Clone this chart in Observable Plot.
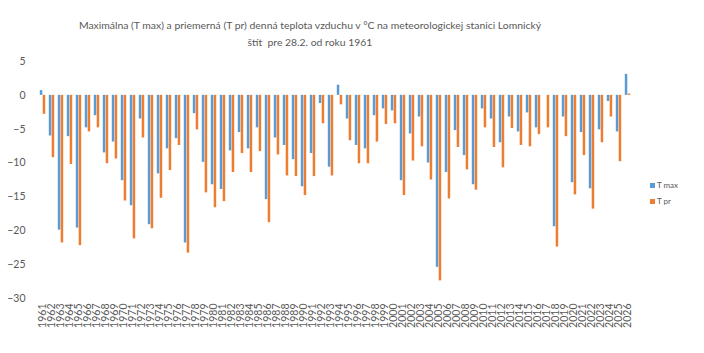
<!DOCTYPE html>
<html>
<head>
<meta charset="utf-8">
<script src="https://cdn.jsdelivr.net/npm/d3@7"></script>
<script src="https://cdn.jsdelivr.net/npm/@observablehq/plot@0.6"></script>
<style>
  html, body { margin: 0; padding: 0; background: #fff; }
  #wrap { position: relative; width: 704px; height: 353px; overflow: hidden; font-family: Lato, "Open Sans", sans-serif; color: #595959; }
  #title { position: absolute; left: 0; top: 17px; width: 620px; text-align: center; font-size: 10.4px; line-height: 17px; white-space: nowrap; }
  #legend { position: absolute; left: 650px; top: 177px; font-size: 8px; line-height: 16px; }
  #legend .sw { display: inline-block; width: 5px; height: 5px; margin-right: 2px; vertical-align: 0px; }
  #chart { position: absolute; left: 0; top: 0; }
</style>
</head>
<body>
<div id="wrap">
  <div id="chart"></div>
  <div id="title">Maximálna (T max) a priemerná (T pr) denná teplota vzduchu v °C na meteorologickej stanici Lomnický<br>štít&nbsp; pre 28.2. od roku 1961</div>
  <div id="legend"></div>
</div>
<script>
const years = d3.range(1961, 2027);
const seriesNames = ["T max", "T pr"];
const seriesColors = ["#5B9BD5", "#ED7D31"];
const tMax = [
  0.7, -6.0, -19.9, -6.1, -19.6, -4.8, -3.0, -8.5, -6.9, -12.6,
  -16.3, -3.5, -19.1, -11.6, -7.9, -6.4, -21.8, -2.7, -9.9, -13.2,
  -13.9, -8.2, -5.5, -7.9, -4.8, -15.4, -6.3, -7.4, -9.5, -13.5,
  -8.6, -1.2, -10.6, 1.5, -3.5, -7.4, -7.9, -3.0, -2.0, -2.3,
  -12.6, -5.7, -3.2, -10.0, -25.4, -11.4, -5.2, -8.9, -13.2, -2.0,
  -3.5, -7.0, -3.2, -5.4, -2.6, -4.8, null, -19.4, -3.2, -12.9,
  -5.5, -13.8, -5.1, -0.9, -5.4, 3.1
];
const tPr = [
  -2.8, -9.2, -21.8, -10.2, -22.2, -5.4, -4.8, -10.1, -9.4, -15.6,
  -21.2, -6.3, -19.7, -15.2, -11.1, -7.4, -23.3, -5.1, -14.4, -16.6,
  -15.7, -11.4, -8.6, -11.4, -8.3, -18.8, -8.8, -11.9, -12.0, -14.8,
  -12.0, -4.2, -11.9, -1.4, -6.7, -10.1, -10.1, -6.9, -4.3, -4.2,
  -14.8, -9.7, -7.6, -12.5, -27.4, -15.3, -7.7, -11.0, -14.0, -4.8,
  -7.7, -10.7, -4.9, -7.4, -7.6, -5.8, -4.8, -22.4, -6.1, -14.7,
  -8.9, -16.8, -7.0, -3.2, -9.8, 0.2
];
const yTicks = [5, 0, -5, -10, -15, -20, -25, -30];

const rows = [];
years.forEach((y, i) => {
  rows.push({year: y, series: seriesNames[0], value: tMax[i]});
  rows.push({year: y, series: seriesNames[1], value: tPr[i]});
});
const maxRows = rows.filter(d => d.series === "T max" && d.value != null);
const prRows = rows.filter(d => d.series === "T pr" && d.value != null);

const chart = Plot.plot({
  width: 704,
  height: 353,
  marginLeft: 34,
  marginRight: 69,
  marginTop: 61,
  marginBottom: 55,
  style: {fontFamily: "Lato, 'Open Sans', sans-serif", color: "#595959", background: "white"},
  x: {type: "band", domain: years, padding: 0, label: null, tickSize: 0, tickRotate: -90, tickPadding: 4},
  y: {domain: [-30, 5], ticks: yTicks, label: null, tickSize: 0, tickPadding: 9},
  color: {domain: seriesNames, range: seriesColors},
  marks: [
    Plot.gridY(yTicks, {stroke: "#d9d9d9", strokeOpacity: 1, strokeWidth: 1, x1: 34, x2: 636}),
    Plot.barY(maxRows, {x: "year", y: "value", fill: "series", insetLeft: 1.8, insetRight: 4.7}),
    Plot.barY(prRows, {x: "year", y: "value", fill: "series", insetLeft: 4.7, insetRight: 1.8}),
    Plot.axisY(yTicks, {tickSize: 0, tickPadding: 9, fontSize: 10.5, fill: "#595959"}),
    Plot.axisX(years, {tickSize: 0, tickRotate: -90, tickPadding: 5, fontSize: 10.5, fill: "#595959", tickFormat: d => String(d)})
  ]
});
document.getElementById("chart").appendChild(chart);

const leg = document.getElementById("legend");
seriesNames.forEach((n, i) => {
  const div = document.createElement("div");
  div.innerHTML = `<span class="sw" style="background:${seriesColors[i]}"></span>${n}`;
  leg.appendChild(div);
});
</script>
</body>
</html>
